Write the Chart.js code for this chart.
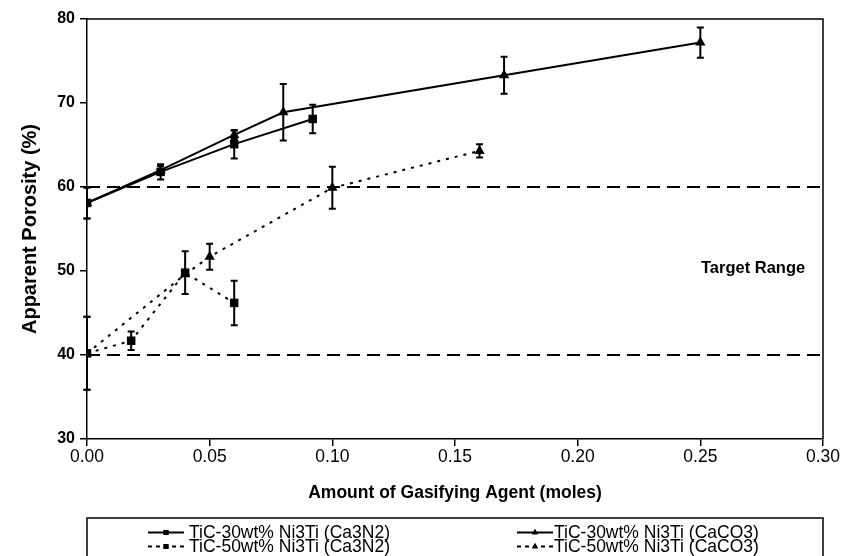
<!DOCTYPE html>
<html><head><meta charset="utf-8">
<script src="https://cdn.jsdelivr.net/npm/chart.js@4/dist/chart.umd.min.js"></script>
<style>html,body{margin:0;padding:0;background:#fff;}#wrap{width:845px;height:556px;position:relative;}</style>
</head><body><div id="wrap"><canvas id="c" width="845" height="556"></canvas></div>
<script>
// ---- data ----
const seriesLabels = [
  'TiC-30wt% Ni3Ti (Ca3N2)',
  'TiC-30wt% Ni3Ti (CaCO3)',
  'TiC-50wt% Ni3Ti (Ca3N2)',
  'TiC-50wt% Ni3Ti (CaCO3)'
];
const x30Ca3N2 = [0, 0.03, 0.06, 0.092];
const y30Ca3N2 = [58.1, 61.8, 65.1, 68.1];
const e30Ca3N2 = [1.85, 0.9, 1.7, 1.7];

const x30CaCO3 = [0, 0.03, 0.06, 0.08, 0.17, 0.25];
const y30CaCO3 = [58.1, 62.0, 66.2, 68.9, 73.3, 77.2];
const e30CaCO3 = [1.85, 0.5, 0.5, 3.35, 2.2, 1.8];

const x50Ca3N2 = [0, 0.018, 0.04, 0.06];
const y50Ca3N2 = [40.2, 41.7, 49.8, 46.2];
const e50Ca3N2 = [4.35, 1.1, 2.55, 2.65];

const x50CaCO3 = [0, 0.04, 0.05, 0.10, 0.16];
const y50CaCO3 = [40.2, 49.6, 51.7, 59.9, 64.3];
const e50CaCO3 = [4.35, 0, 1.55, 2.5, 0.8];

const targetLow = 40;
const targetHigh = 60;
const targetLabel = 'Target Range';
const targetLabelPos = {x: 0.2715, y: 50.3};

const xRange = [0, 0.30];
const yRange = [30, 80];
const xStep = 0.05;
const yStep = 10;
const xTitle = 'Amount of Gasifying Agent (moles)';
const yTitle = 'Apparent Porosity (%)';

// ---- build ----
const FONT = "'Liberation Sans', Arial, Helvetica, sans-serif";
const pts = (xs, ys) => xs.map((x, i) => ({x: x, y: ys[i]}));

function series(label, xs, ys, errs, style, dash) {
  return {
    label: label, data: pts(xs, ys), errors: errs,
    showLine: true, borderColor: '#000', backgroundColor: '#000',
    borderWidth: 2, borderDash: dash, pointStyle: style,
    pointRadius: 6, pointBorderWidth: 0, pointBackgroundColor: '#000',
    legendEntry: true
  };
}
function refLine(v) {
  return {
    data: [{x: xRange[0], y: v}, {x: xRange[1], y: v}],
    showLine: true, borderColor: '#000', borderWidth: 2, borderDash: [13, 7],
    pointRadius: 0, legendEntry: false
  };
}

const datasets = [
  refLine(targetHigh), refLine(targetLow),
  series(seriesLabels[0], x30Ca3N2, y30Ca3N2, e30Ca3N2, 'rect', []),
  series(seriesLabels[1], x30CaCO3, y30CaCO3, e30CaCO3, 'triangle', []),
  series(seriesLabels[2], x50Ca3N2, y50Ca3N2, e50Ca3N2, 'rect', [3, 6]),
  series(seriesLabels[3], x50CaCO3, y50CaCO3, e50CaCO3, 'triangle', [3, 6])
];

const errorBars = {
  id: 'errorBars',
  afterDatasetsDraw(chart) {
    const ctx = chart.ctx, xs = chart.scales.x, ys = chart.scales.y;
    ctx.save();
    ctx.strokeStyle = '#000'; ctx.lineWidth = 2; ctx.setLineDash([]);
    chart.data.datasets.forEach(ds => {
      if (!ds.errors) return;
      ds.data.forEach((p, i) => {
        const e = ds.errors[i];
        if (!e) return;
        const px = xs.getPixelForValue(p.x);
        const top = ys.getPixelForValue(p.y + e);
        const bot = ys.getPixelForValue(p.y - e);
        ctx.beginPath();
        ctx.moveTo(px, top); ctx.lineTo(px, bot);
        ctx.moveTo(px - 3.5, top); ctx.lineTo(px + 3.5, top);
        ctx.moveTo(px - 3.5, bot); ctx.lineTo(px + 3.5, bot);
        ctx.stroke();
      });
    });
    ctx.restore();
  }
};

const frame = {
  id: 'frame',
  afterDraw(chart) {
    const ctx = chart.ctx, a = chart.chartArea, xs = chart.scales.x, ys = chart.scales.y;
    ctx.save();
    ctx.strokeStyle = '#000'; ctx.lineWidth = 1.5;
    ctx.beginPath();
    ctx.moveTo(a.left, a.top); ctx.lineTo(a.right, a.top); ctx.lineTo(a.right, a.bottom);
    ctx.stroke();
    // target label
    ctx.fillStyle = '#000';
    ctx.font = 'bold 16.5px ' + FONT;
    ctx.textAlign = 'center'; ctx.textBaseline = 'middle';
    ctx.fillText(targetLabel, xs.getPixelForValue(targetLabelPos.x), ys.getPixelForValue(targetLabelPos.y));
    // legend box
    const boxTop = 518;
    ctx.lineWidth = 1.5;
    ctx.strokeRect(a.left, boxTop, a.right - a.left, chart.height - boxTop + 10);
    const entries = chart.data.datasets.filter(d => d.legendEntry);
    const cols = [{lx: 148, tx: 189}, {lx: 517, tx: 554}];
    const rows = [532.5, 546.5];
    ctx.font = '17.5px ' + FONT;
    ctx.textAlign = 'left';
    entries.forEach((d, i) => {
      const c = cols[i % 2], y = rows[Math.floor(i / 2)];
      ctx.save();
      ctx.strokeStyle = '#000'; ctx.lineWidth = 2;
      ctx.setLineDash(d.borderDash.length ? [4, 4] : []);
      ctx.beginPath(); ctx.moveTo(c.lx, y); ctx.lineTo(c.lx + 36, y); ctx.stroke();
      ctx.restore();
      Chart.helpers.drawPoint(ctx, {pointStyle: d.pointStyle, radius: 3.5, borderWidth: 0}, c.lx + 18, y);
      ctx.fillStyle = '#000';
      ctx.fill();
      ctx.fillText(d.label, c.tx, y + 1);
    });
    ctx.restore();
  }
};

new Chart(document.getElementById('c'), {
  type: 'scatter',
  data: {datasets: datasets},
  options: {
    responsive: false, animation: false, devicePixelRatio: 1,
    layout: {padding: {left: 0, right: 22, top: 19, bottom: 47}},
    plugins: {legend: {display: false}, tooltip: {enabled: false}},
    scales: {
      x: {
        type: 'linear', min: xRange[0], max: xRange[1],
        afterFit(s) { s.height = 70; },
        ticks: {stepSize: xStep, color: '#000', padding: 1,
          font: {family: FONT, size: 17.5},
          callback: v => v.toFixed(2)},
        grid: {drawOnChartArea: false, drawTicks: true, tickLength: 7, color: '#000', lineWidth: 1.5},
        border: {display: true, color: '#000', width: 1.5},
        title: {display: true, text: xTitle, color: '#000',
          font: {family: FONT, size: 17.5, weight: 'bold'}, padding: {top: 0, bottom: 5}}
      },
      y: {
        type: 'linear', min: yRange[0], max: yRange[1],
        afterFit(s) { s.width = 87; },
        ticks: {stepSize: yStep, color: '#000', padding: 5,
          font: {family: FONT, size: 16, weight: 'bold'}},
        grid: {drawOnChartArea: false, drawTicks: true, tickLength: 7, color: '#000', lineWidth: 1.5},
        border: {display: true, color: '#000', width: 1.5},
        title: {display: true, text: yTitle, color: '#000',
          font: {family: FONT, size: 20, weight: 'bold'}, padding: {top: 18, bottom: 0}}
      }
    }
  },
  plugins: [errorBars, frame]
});
</script></body></html>
